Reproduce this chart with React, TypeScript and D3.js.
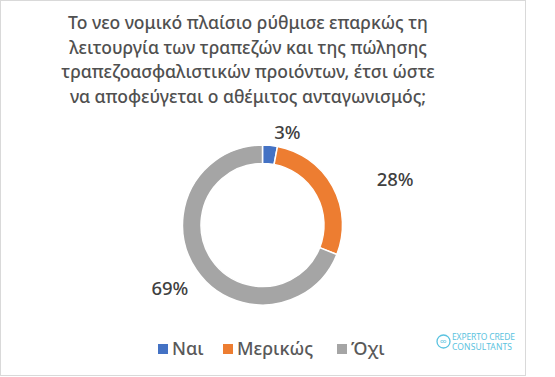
import React from "react";
import * as d3 from "d3";

const titleLines = [
  "Το νεο νομικό πλαίσιο ρύθμισε επαρκώς τη",
  "λειτουργία των τραπεζών  και της πώλησης",
  "τραπεζοασφαλιστικών  προιόντων, έτσι ώστε",
  "να αποφεύγεται ο αθέμιτος ανταγωνισμός;",
];
const categories = ["Ναι", "Μερικώς", "Όχι"];
const values = [3, 28, 69];
const colors = ["#4472C4", "#ED7D31", "#A5A5A5"];
const labelText = ["3%", "28%", "69%"];

export default function App() {
  const W = 555, H = 377;
  const cx = 262.5, cy = 225;
  const outerR = 80, innerR = 61.5;
  const pie = d3.pie<number>().sort(null).value((d) => d)(values);
  const arc = d3.arc<d3.PieArcDatum<number>>().innerRadius(innerR).outerRadius(outerR);
  const labelDist = [95, 140, 112];
  const labelShift = [[16, 1], [10, 21], [0, 0]];
  const font = "'Noto Sans', 'Open Sans', sans-serif";

  const legendY = 349;
  const sqX = [158, 223, 337];
  const sq = 10;

  return (
    <svg width={W} height={H} style={{ position: "absolute", left: 0, top: 0, background: "#fff" }}>
      <rect x={0.5} y={0.5} width={525} height={375} fill="#fff" stroke="#d9d9d9" strokeWidth={1} />
      {titleLines.map((t, i) => (
        <text key={i} x={248} y={29 + i * 24.5} textAnchor="middle" fontFamily={font} fontSize={17.5} fontWeight={500} fill="#505050">
          {t}
        </text>
      ))}
      <g transform={`translate(${cx},${cy})`}>
        {pie.map((p, i) => (
          <path key={i} d={arc(p) || ""} fill={colors[i]} stroke="#fff" strokeWidth={1.5} />
        ))}
        {pie.map((p, i) => {
          const a = (p.startAngle + p.endAngle) / 2;
          const x = Math.sin(a) * labelDist[i] + labelShift[i][0];
          const y = -Math.cos(a) * labelDist[i] + labelShift[i][1];
          return (
            <text key={i} x={x} y={y} textAnchor="middle" dominantBaseline="central" fontFamily={font} fontSize={18.5} fontWeight={500} fill="#404040">
              {labelText[i]}
            </text>
          );
        })}
      </g>
      {categories.map((c, i) => (
        <g key={i}>
          <rect x={sqX[i]} y={legendY - 5} width={sq} height={sq} fill={colors[i]} />
          <text x={sqX[i] + sq + 4} y={legendY + 6} fontFamily={font} fontSize={18} fontWeight={500} fill="#595959">
            {c}
          </text>
        </g>
      ))}
      <g>
        <circle cx={443.5} cy={341.5} r={6.5} fill="none" stroke="#5bc3e0" strokeWidth={1.3} />
        <text x={443.5} y={345} textAnchor="middle" fontFamily={font} fontSize={10} fill="#5bc3e0">∞</text>
        <text x={452} y={340} fontFamily={font} fontSize={8.5} fill="#5bc3e0" textLength={63}>EXPERTO  CREDE</text>
        <text x={452} y={350} fontFamily={font} fontSize={8.5} fill="#5bc3e0" textLength={60}>CONSULTANTS</text>
      </g>
    </svg>
  );
}
